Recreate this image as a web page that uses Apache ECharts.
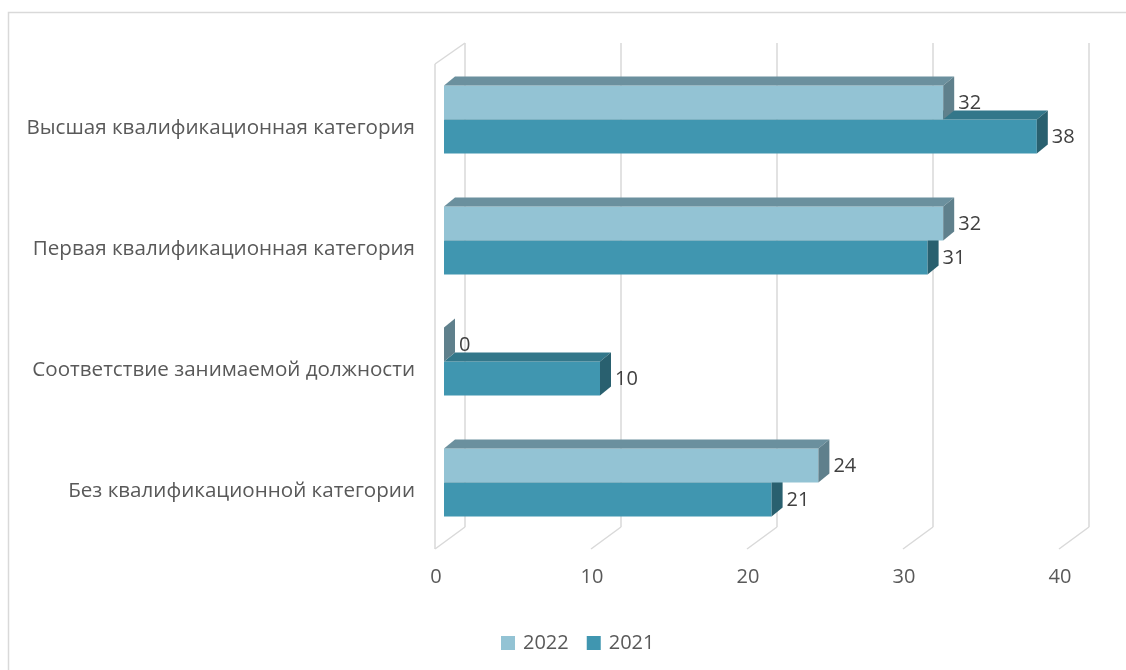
<!DOCTYPE html>
<html>
<head>
<meta charset="utf-8">
<script src="https://cdn.jsdelivr.net/npm/echarts@6/dist/echarts.min.js"></script>
<style>
html,body{margin:0;padding:0;background:#fff;}
#chart{width:1126px;height:670px;}
</style>
</head>
<body>
<div id="chart"></div>
<script>
var categories = ['Высшая квалификационная категория', 'Первая квалификационная категория', 'Соответствие занимаемой должности', 'Без квалификационной категории'];
var values2022 = [32, 32, 0, 24];
var values2021 = [38, 31, 10, 21];
var seriesNames = ['2022', '2021'];
var valueTicks = [0, 10, 20, 30, 40];

var FONT = 'Open Sans';
var BAR_H = 34;
var DX = 11, DY = -9;        // bar depth
var FRONT = [-9, 6];         // front wall offset vs bar plane
var BACK = [21, -16];        // back wall offset vs bar plane
var GRID_COLOR = '#d9d9d9';

var colors = {
  '2022': {front: '#93c3d4', top: '#6b909e', side: '#5f808c'},
  '2021': {front: '#4096b0', top: '#33778a', side: '#29606f'}
};

function barRender(name, upper) {
  var c = colors[name];
  return function (params, api) {
    var cat = api.value(1);
    var val = api.value(0);
    var p0 = api.coord([0, cat]);
    var p1 = api.coord([val, cat]);
    var x0 = p0[0], x1 = p1[0], yc = p0[1];
    var y0 = upper ? yc - BAR_H : yc;
    var y1 = y0 + BAR_H;
    var children = [];
    if (x1 - x0 > 0.5) {
      children.push({type: 'rect', shape: {x: x0, y: y0, width: x1 - x0, height: BAR_H}, style: {fill: c.front}});
      children.push({type: 'polygon', shape: {points: [[x0, y0], [x1, y0], [x1 + DX, y0 + DY], [x0 + DX, y0 + DY]]}, style: {fill: c.top}});
    }
    children.push({type: 'polygon', shape: {points: [[x1, y0], [x1, y1], [x1 + DX, y1 + DY], [x1 + DX, y0 + DY]]}, style: {fill: c.side}});
    children.push({type: 'text', style: {text: String(val), x: x1 + DX + 4, y: (y0 + y1) / 2 + 1, fill: '#404040', font: '20px "' + FONT + '"', align: 'left', verticalAlign: 'middle'}});
    return {type: 'group', children: children};
  };
}

function gridRender(params, api) {
  var v = api.value(0);
  var cs = params.coordSys;
  var x = api.coord([v, 0])[0];
  var top = cs.y, bot = cs.y + cs.height;
  var st = {stroke: GRID_COLOR, lineWidth: 1.5, fill: null};
  var ch = [
    {type: 'line', shape: {x1: x + BACK[0], y1: top + BACK[1], x2: x + BACK[0], y2: bot + BACK[1]}, style: st},
    {type: 'line', shape: {x1: x + BACK[0], y1: bot + BACK[1], x2: x + FRONT[0], y2: bot + FRONT[1]}, style: st}
  ];
  if (v === 0) {
    ch.push({type: 'line', shape: {x1: x + FRONT[0], y1: top + FRONT[1] - 1, x2: x + FRONT[0], y2: bot + FRONT[1]}, style: st});
    ch.push({type: 'line', shape: {x1: x + FRONT[0], y1: top + FRONT[1] - 1, x2: x + BACK[0], y2: top + BACK[1]}, style: st});
  }
  return {type: 'group', children: ch};
}

var chart = echarts.init(document.getElementById('chart'));
chart.setOption({
  animation: false,
  backgroundColor: '#fff',
  textStyle: {fontFamily: FONT},
  graphic: [{type: 'rect', shape: {x: 8.5, y: 12.5, width: 1140, height: 700}, style: {fill: null, stroke: '#d9d9d9', lineWidth: 1.5}, silent: true}],
  grid: {left: 444, top: 59, width: 624, height: 484},
  xAxis: {
    type: 'value', min: 0, max: 40, interval: 10,
    axisLine: {show: false}, axisTick: {show: false}, splitLine: {show: false},
    axisLabel: {color: '#595959', fontSize: 20, margin: 24, padding: [0, 16, 0, 0]}
  },
  yAxis: {
    type: 'category', data: categories, inverse: true,
    axisLine: {show: false}, axisTick: {show: false},
    axisLabel: {color: '#595959', fontSize: 20.6, margin: 29, verticalAlign: 'top', lineHeight: 18}
  },
  legend: {
    data: ['2022', '2021'], bottom: 12, left: 496,
    itemWidth: 14, itemHeight: 14, itemGap: 18, icon: 'rect',
    textStyle: {color: '#595959', fontSize: 20, padding: [0, 0, 0, 3]}
  },
  series: [
    {type: 'custom', name: 'grid', renderItem: gridRender, data: valueTicks.map(function (v) { return [v, 0]; }), silent: true, z: 1},
    {type: 'custom', name: '2021', renderItem: barRender('2021', false), itemStyle: {color: colors['2021'].front},
      data: values2021.map(function (v, i) { return [v, i]; }), encode: {x: 0, y: 1}, z: 2},
    {type: 'custom', name: '2022', renderItem: barRender('2022', true), itemStyle: {color: colors['2022'].front},
      data: values2022.map(function (v, i) { return [v, i]; }), encode: {x: 0, y: 1}, z: 3}
  ]
});
</script>
</body>
</html>
